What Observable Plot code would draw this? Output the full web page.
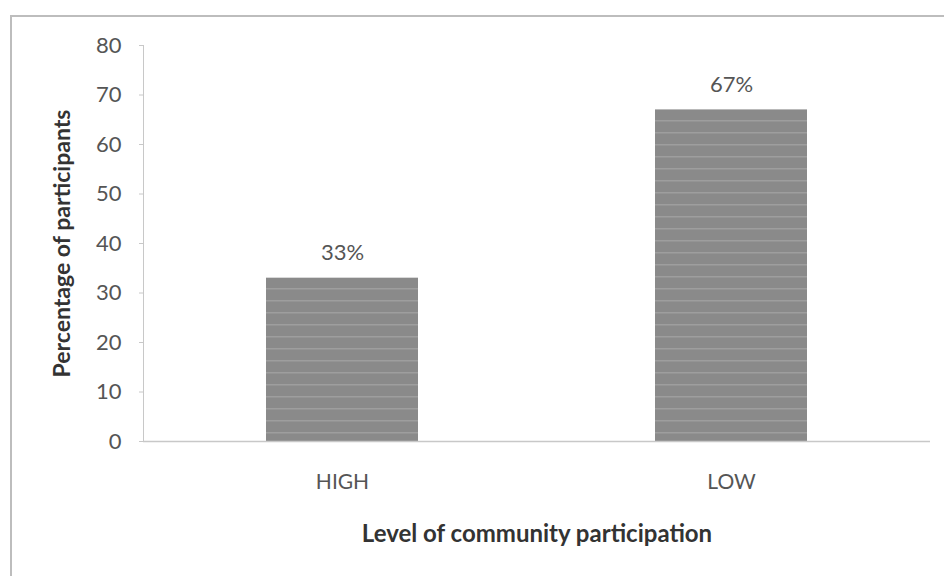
<!DOCTYPE html>
<html>
<head>
<meta charset="utf-8">
<script src="https://cdn.jsdelivr.net/npm/d3@7"></script>
<script src="https://cdn.jsdelivr.net/npm/@observablehq/plot@0.6"></script>
<style>
  html, body { margin: 0; padding: 0; background: #fff; }
  #wrap { position: relative; width: 944px; height: 576px; overflow: hidden; }
  #frame { position: absolute; left: 10px; top: 15px; width: 960px; height: 600px;
           border: 2px solid #bdbdbd; box-sizing: border-box; }
  #chart { position: absolute; left: 0; top: 0; }
</style>
</head>
<body>
<div id="wrap">
  <div id="frame"></div>
  <div id="chart"></div>
</div>
<script>
// Share of participants by level of community participation
const levels = ["HIGH", "LOW"];
const percentages = [33, 67];
const valueLabels = ["33%", "67%"];
const yTicks = [0, 10, 20, 30, 40, 50, 60, 70, 80];

const rows = levels.map((level, i) => ({level, pct: percentages[i], label: valueLabels[i]}));

const font = "Lato, 'Open Sans', sans-serif";

const plot = Plot.plot({
  width: 944,
  height: 576,
  marginLeft: 143,
  marginRight: 14,
  marginTop: 45,
  marginBottom: 135,
  style: {fontFamily: font, background: "transparent", color: "#555"},
  x: {domain: levels, paddingInner: 0.608, paddingOuter: 0.313, label: null},
  y: {domain: [0, 80], ticks: yTicks, label: null},
  marks: [
    Plot.frame({anchor: "left", stroke: "#c8c8c8"}),
    Plot.barY(rows, {x: "level", y: "pct", fill: "url(#barStripes)"}),
    Plot.ruleY([0], {stroke: "#c8c8c8", strokeWidth: 1.5}),
    Plot.axisY({ticks: yTicks, tickSize: 4, stroke: "#c8c8c8", tickPadding: 18, fontSize: 22, fill: "#555"}),
    Plot.axisX({tickSize: 0, tickPadding: 33, fontSize: 21, fill: "#555"}),
    Plot.text(rows, {x: "level", y: "pct", text: "label", dy: -25, fontSize: 22, fill: "#555"}),
    Plot.text(["Level of community participation"], {
      frameAnchor: "bottom", dy: 100, fontSize: 24, fontWeight: "bold", fill: "#333"
    }),
    Plot.text(["Percentage of participants"], {
      frameAnchor: "left", dx: -81, rotate: -90, textAnchor: "middle",
      fontSize: 23, fontWeight: "bold", fill: "#333"
    })
  ]
});

// Horizontal striped fill used by the bars
const ns = "http://www.w3.org/2000/svg";
const defs = document.createElementNS(ns, "defs");
const pat = document.createElementNS(ns, "pattern");
pat.setAttribute("id", "barStripes");
pat.setAttribute("patternUnits", "userSpaceOnUse");
pat.setAttribute("width", "8");
pat.setAttribute("height", "12");
const base = document.createElementNS(ns, "rect");
base.setAttribute("width", "8");
base.setAttribute("height", "12");
base.setAttribute("fill", "#8a8a8a");
const line = document.createElementNS(ns, "rect");
line.setAttribute("y", "0");
line.setAttribute("width", "8");
line.setAttribute("height", "1.5");
line.setAttribute("fill", "#9e9e9e");
pat.appendChild(base);
pat.appendChild(line);
defs.appendChild(pat);
plot.insertBefore(defs, plot.firstChild);

document.getElementById("chart").appendChild(plot);
</script>
</body>
</html>
